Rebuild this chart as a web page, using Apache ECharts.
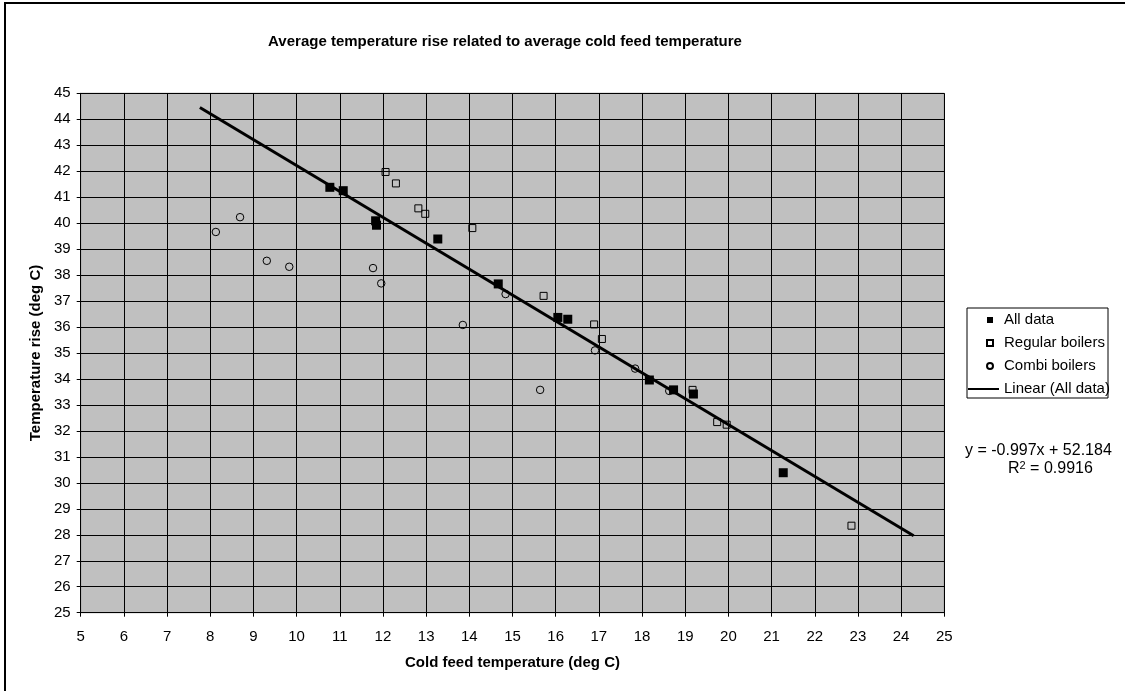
<!DOCTYPE html>
<html>
<head>
<meta charset="utf-8">
<script src="https://cdn.jsdelivr.net/npm/echarts@6/dist/echarts.min.js"></script>
<style>
  html, body { margin: 0; padding: 0; background: #fff; }
  #chart { width: 1125px; height: 691px; }
</style>
</head>
<body>
<div id="chart"></div>
<script>
// ---- Data ----
const allX   = [10.77, 11.08, 11.83, 11.85, 13.27, 14.67, 16.05, 16.28, 18.17, 18.73, 19.19, 21.27];
const allY   = [41.38, 41.25, 40.09, 39.92, 39.39, 37.66, 36.37, 36.30, 33.96, 33.58, 33.42, 30.39];

const regX   = [12.06, 12.30, 12.82, 12.98, 14.07, 15.72, 16.89, 17.07, 19.17, 19.74, 19.96, 22.85];
const regY   = [41.97, 41.53, 40.57, 40.36, 39.81, 37.20, 36.10, 35.54, 33.58, 32.34, 32.24, 28.35];

const combiX = [8.13, 8.69, 9.31, 9.83, 11.77, 11.96, 13.85, 14.84, 15.64, 16.91, 17.84, 18.63];
const combiY = [39.66, 40.23, 38.55, 38.32, 38.27, 37.68, 36.08, 37.27, 33.58, 35.10, 34.40, 33.54];

// Linear trendline of "All data" (end points as drawn)
const trendX = [7.76, 24.29];
const trendY = [44.45, 27.96];

const seriesNames = ['All data', 'Regular boilers', 'Combi boilers', 'Linear (All data)'];
const titleText = 'Average temperature rise related to average cold feed temperature';
const xTitle = 'Cold feed temperature (deg C)';
const yTitle = 'Temperature rise (deg C)';
const eqText = 'y = -0.997x + 52.184';
const r2Text = '0.9916';

const pairs = (xs, ys) => xs.map((x, i) => [x, ys[i]]);
const FONT = 'Liberation Sans, Arial, sans-serif';
const legendText = { fontFamily: FONT, fontSize: 15, color: '#000' };

const chart = echarts.init(document.getElementById('chart'));
chart.setOption({
  backgroundColor: '#ffffff',
  animation: false,
  title: {
    text: titleText,
    left: 505,
    textAlign: 'center',
    top: 34,
    padding: 0,
    textStyle: { fontFamily: FONT, fontSize: 15, fontWeight: 'bold', color: '#000' }
  },
  grid: {
    left: 80.7, top: 93.3, right: 180.7, bottom: 78.3,
    show: true, backgroundColor: '#c0c0c0', borderColor: '#808080', borderWidth: 1
  },
  legend: [
    {
      orient: 'vertical',
      left: 986, top: 312.5,
      padding: 0,
      itemGap: 8,
      itemWidth: 6, itemHeight: 6,
      data: seriesNames.slice(0, 3),
      textStyle: Object.assign({ padding: [0, 0, 0, 6] }, legendText)
    },
    {
      orient: 'vertical',
      left: 968, top: 381.5,
      padding: 0,
      itemWidth: 31, itemHeight: 2,
      data: [{ name: seriesNames[3], icon: 'rect' }],
      textStyle: legendText
    }
  ],
  xAxis: {
    type: 'value', min: 5, max: 25, interval: 1,
    name: xTitle, nameLocation: 'middle', nameGap: 43,
    nameTextStyle: { fontFamily: FONT, fontSize: 15, fontWeight: 'bold', color: '#000' },
    axisLine: { show: true, onZero: false, lineStyle: { color: '#000', width: 1 } },
    axisTick: { show: true, inside: false, length: 4, lineStyle: { color: '#000' } },
    axisLabel: { margin: 17, fontFamily: FONT, fontSize: 15, color: '#000' },
    splitLine: { show: true, lineStyle: { color: '#000', width: 1 } }
  },
  yAxis: {
    type: 'value', min: 25, max: 45, interval: 1,
    name: yTitle, nameLocation: 'middle', nameGap: 37,
    nameTextStyle: { fontFamily: FONT, fontSize: 15, fontWeight: 'bold', color: '#000' },
    axisLine: { show: true, onZero: false, lineStyle: { color: '#000', width: 1 } },
    axisTick: { show: true, inside: false, length: 4, lineStyle: { color: '#000' } },
    axisLabel: { margin: 10, fontFamily: FONT, fontSize: 15, color: '#000' },
    splitLine: { show: true, lineStyle: { color: '#000', width: 1 } }
  },
  series: [
    {
      name: seriesNames[1], type: 'scatter', symbol: 'rect', symbolSize: 7, z: 2,
      itemStyle: { color: 'transparent', borderColor: '#000', borderWidth: 1, opacity: 1 },
      data: pairs(regX, regY)
    },
    {
      name: seriesNames[2], type: 'scatter', symbol: 'circle', symbolSize: 7.5, z: 2,
      itemStyle: { color: 'transparent', borderColor: '#000', borderWidth: 1, opacity: 1 },
      data: pairs(combiX, combiY)
    },
    {
      name: seriesNames[0], type: 'scatter', symbol: 'rect', symbolSize: 9, z: 3,
      itemStyle: { color: '#000', opacity: 1 },
      data: pairs(allX, allY)
    },
    {
      name: seriesNames[3], type: 'line', symbol: 'none', showSymbol: false, z: 4,
      lineStyle: { color: '#000', width: 3 },
      itemStyle: { color: '#000' },
      data: pairs(trendX, trendY)
    }
  ],
  graphic: [
    {
      type: 'rect', silent: true, z: 100,
      shape: { x: 5, y: 3, width: 1300, height: 900 },
      style: { fill: 'none', stroke: '#000', lineWidth: 2 }
    },
    {
      type: 'rect', silent: true, z: 0,
      shape: { x: 967, y: 308, width: 141, height: 90 },
      style: { fill: '#fff', stroke: '#000', lineWidth: 1 }
    },
    {
      type: 'text', left: 965, top: 443, silent: true,
      style: { text: eqText, font: '16px ' + FONT, fill: '#000' }
    },
    {
      type: 'text', left: 1008, top: 460, silent: true,
      style: {
        text: 'R{sup|2} = ' + r2Text,
        font: '16px ' + FONT, fill: '#000',
        rich: { sup: { fontSize: 11, verticalAlign: 'top', padding: [0, 0, 7, 0], fontFamily: FONT } }
      }
    }
  ]
});
</script>
</body>
</html>
